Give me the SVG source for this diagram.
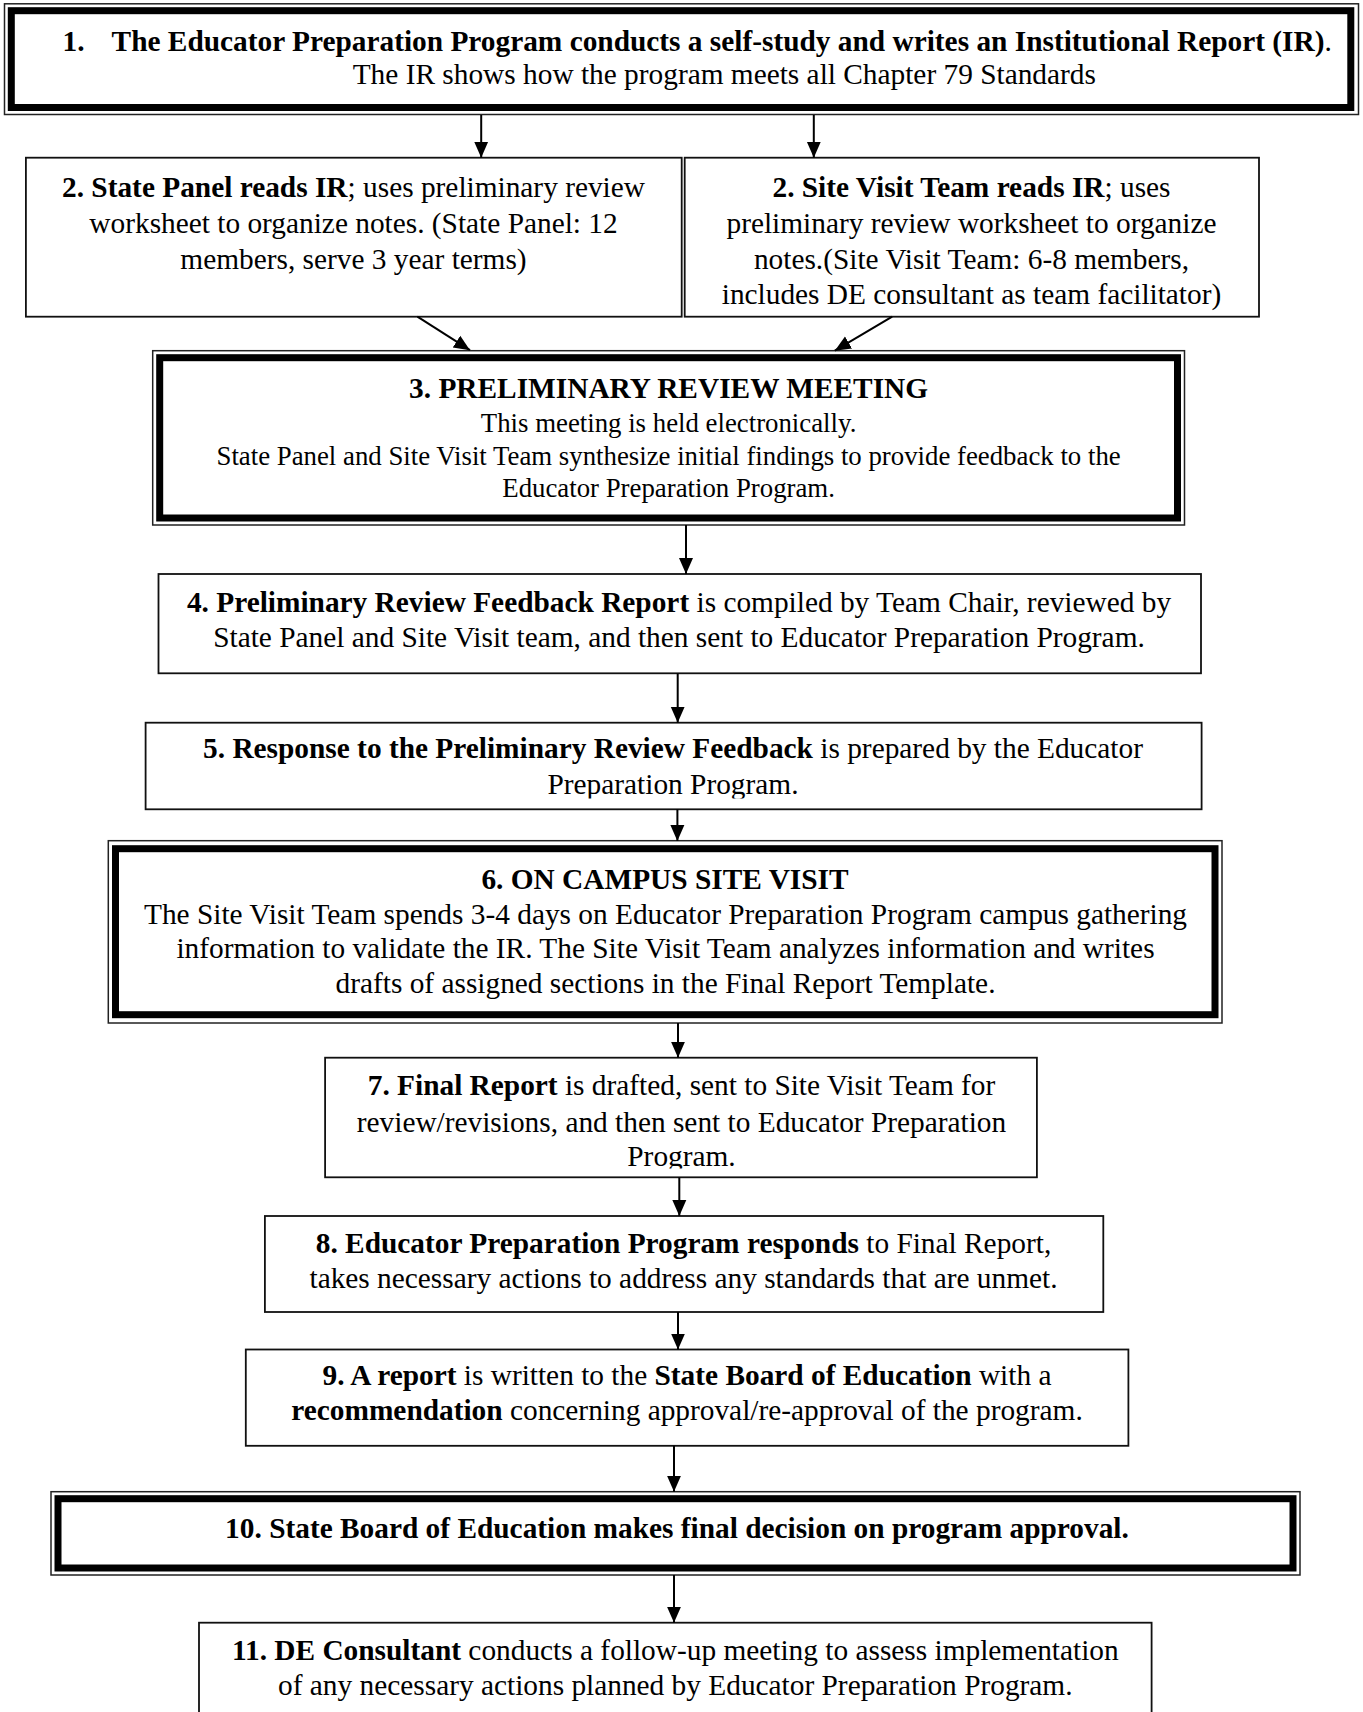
<svg xmlns="http://www.w3.org/2000/svg" width="1363" height="1712" viewBox="0 0 1363 1712">
<style>
text{font-family:"Liberation Serif","Times New Roman",serif;font-size:29.35px;fill:#000}
.c{text-anchor:middle}
.b{font-weight:bold}
.s{font-size:26.8px}
.box{fill:#fff;stroke:#111;stroke-width:1.8}
.thin{fill:#fff;stroke:#222;stroke-width:1.5}
.thick{fill:none;stroke:#000;stroke-width:7}
.con{stroke:#000;stroke-width:2;fill:none;marker-end:url(#ah)}
</style>
<defs>
<marker id="ah" markerUnits="userSpaceOnUse" markerWidth="16" markerHeight="16" viewBox="0 0 16 16" refX="16" refY="8" orient="auto">
<path d="M0,1 L16,8 L0,15 z" fill="#000"/>
</marker>
<clipPath id="clip5"><rect x="140" y="720" width="1070" height="78.5"/></clipPath>
<clipPath id="clip7"><rect x="320" y="1055" width="720" height="113.5"/></clipPath>
</defs>
<rect width="1363" height="1712" fill="#fff"/>

<g id="node1">
<rect class="thin" x="4.5" y="3.8" width="1354" height="110.7"/>
<rect class="thick" x="11.3" y="10.7" width="1339.5" height="96.8"/>
<text class="b" x="62.5" y="50.7">1.</text>
<text x="111.6" y="50.7"><tspan class="b">The Educator Preparation Program conducts a self-study and writes an Institutional Report (IR)</tspan>.</text>
<text x="352.7" y="84">The IR shows how the program meets all Chapter 79 Standards</text>
</g>

<g id="node2a">
<rect class="box" x="25.9" y="157.7" width="655.8" height="159"/>
<text class="c" x="353.5" y="196.7"><tspan class="b">2. State Panel reads IR</tspan>; uses preliminary review</text>
<text class="c" x="353.5" y="232.5">worksheet to organize notes. (State Panel: 12</text>
<text class="c" x="353.5" y="268.5">members, serve 3 year terms)</text>
</g>

<g id="node2b">
<rect class="box" x="684.7" y="157.7" width="574.3" height="159"/>
<text class="c" x="971.5" y="196.7"><tspan class="b">2. Site Visit Team reads IR</tspan>; uses</text>
<text class="c" x="971.5" y="232.5">preliminary review worksheet to organize</text>
<text class="c" x="971.5" y="268.5">notes.(Site Visit Team: 6-8 members,</text>
<text class="c" x="971.5" y="304.3">includes DE consultant as team facilitator)</text>
</g>

<g id="node3">
<rect class="thin" x="152.7" y="350.7" width="1031.8" height="174.3"/>
<rect class="thick" x="159.7" y="357.7" width="1017.8" height="160.3"/>
<text class="c b" x="668.6" y="398.3">3. PRELIMINARY REVIEW MEETING</text>
<text class="c s" x="668.6" y="431.7">This meeting is held electronically.</text>
<text class="c s" x="668.6" y="465">State Panel and Site Visit Team synthesize initial findings to provide feedback to the</text>
<text class="c s" x="668.6" y="497">Educator Preparation Program.</text>
</g>

<g id="node4">
<rect class="box" x="158.5" y="574" width="1042.5" height="99.3"/>
<text class="c" x="679" y="611.7"><tspan class="b">4. Preliminary Review Feedback Report</tspan> is compiled by Team Chair, reviewed by</text>
<text class="c" x="679" y="646.7">State Panel and Site Visit team, and then sent to Educator Preparation Program.</text>
</g>

<g id="node5">
<rect class="box" x="145.6" y="722.7" width="1056" height="86.6"/>
<text class="c" x="673" y="758.3"><tspan class="b">5. Response to the Preliminary Review Feedback</tspan> is prepared by the Educator</text>
<text class="c" x="673" y="794" clip-path="url(#clip5)">Preparation Program.</text>
</g>

<g id="node6">
<rect class="thin" x="108.3" y="840.7" width="1113.7" height="182.3"/>
<rect class="thick" x="115.5" y="848.7" width="1099.5" height="166"/>
<text class="c b" x="665" y="889.3">6. ON CAMPUS SITE VISIT</text>
<text class="c" x="665.5" y="924">The Site Visit Team spends 3-4 days on Educator Preparation Program campus gathering</text>
<text class="c" x="665.5" y="958.3">information to validate the IR. The Site Visit Team analyzes information and writes</text>
<text class="c" x="665.5" y="993.3">drafts of assigned sections in the Final Report Template.</text>
</g>

<g id="node7">
<rect class="box" x="325.1" y="1057.7" width="711.8" height="119.6"/>
<text class="c" x="681.5" y="1095"><tspan class="b">7. Final Report</tspan> is drafted, sent to Site Visit Team for</text>
<text class="c" x="681.5" y="1131.7">review/revisions, and then sent to Educator Preparation</text>
<text class="c" x="681.5" y="1166" clip-path="url(#clip7)">Program.</text>
</g>

<g id="node8">
<rect class="box" x="264.9" y="1216" width="838.4" height="96"/>
<text class="c" x="683.5" y="1253.3"><tspan class="b">8. Educator Preparation Program responds</tspan> to Final Report,</text>
<text class="c" x="683.5" y="1288.3">takes necessary actions to address any standards that are unmet.</text>
</g>

<g id="node9">
<rect class="box" x="245.8" y="1349.5" width="882.6" height="96.3"/>
<text class="c" x="687" y="1385"><tspan class="b">9. A report</tspan> is written to the <tspan class="b">State Board of Education</tspan> with a</text>
<text class="c" x="687" y="1420"><tspan class="b">recommendation</tspan> concerning approval/re-approval of the program.</text>
</g>

<g id="node10">
<rect class="thin" x="51" y="1491.7" width="1249" height="83.3"/>
<rect class="thick" x="58" y="1498.7" width="1235" height="69.3"/>
<text class="c b" x="677" y="1538.3">10. State Board of Education makes final decision on program approval.</text>
</g>

<g id="node11">
<rect class="box" x="199" y="1622.7" width="952.6" height="110"/>
<text class="c" x="675.3" y="1660"><tspan class="b">11. DE Consultant</tspan> conducts a follow-up meeting to assess implementation</text>
<text class="c" x="675.3" y="1695">of any necessary actions planned by Educator Preparation Program.</text>
</g>

<g id="connectors">
<line class="con" x1="481.2" y1="115" x2="481.2" y2="157.7"/>
<line class="con" x1="813.8" y1="115" x2="813.8" y2="157.7"/>
<line class="con" x1="417.4" y1="316.7" x2="470" y2="350.2"/>
<line class="con" x1="892.2" y1="316.7" x2="834.8" y2="350.7"/>
<line class="con" x1="686" y1="525" x2="686" y2="574"/>
<line class="con" x1="677.7" y1="673.3" x2="677.7" y2="722.7"/>
<line class="con" x1="677.4" y1="809.3" x2="677.4" y2="841"/>
<line class="con" x1="678" y1="1023" x2="678" y2="1057.7"/>
<line class="con" x1="679.3" y1="1177.3" x2="679.3" y2="1216"/>
<line class="con" x1="678" y1="1312" x2="678" y2="1349.5"/>
<line class="con" x1="674" y1="1445.8" x2="674" y2="1491.7"/>
<line class="con" x1="674" y1="1575" x2="674" y2="1622.7"/>
</g>
</svg>
